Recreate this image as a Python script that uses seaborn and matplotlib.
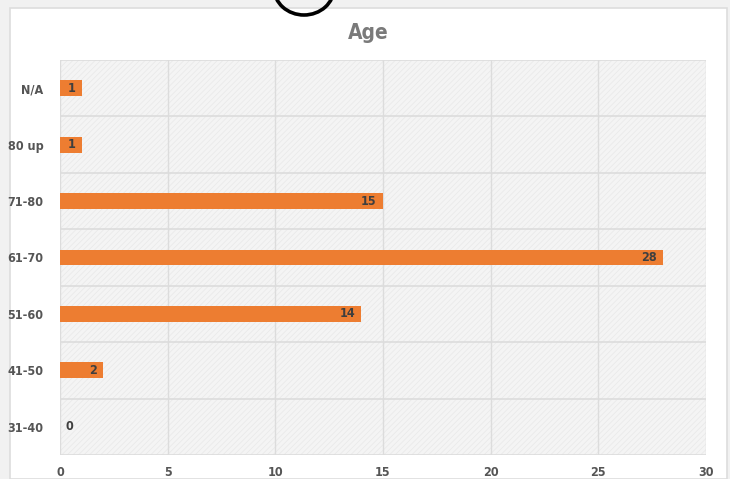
import matplotlib
matplotlib.use("Agg")
import matplotlib.pyplot as plt
from matplotlib.patches import Rectangle, Ellipse
from matplotlib import font_manager
import seaborn as sns
import pandas as pd

categories = ["N/A", "80 up", "71-80", "61-70", "51-60", "41-50", "31-40"]
counts = [1, 1, 15, 28, 14, 2, 0]
x_ticks = [0, 5, 10, 15, 20, 25, 30]
title = "Age"

sns.set_theme(style="white")
names = {f.name for f in font_manager.fontManager.ttflist}
fam = "Liberation Sans Narrow" if "Liberation Sans Narrow" in names else "DejaVu Sans"
plt.rcParams['font.family'] = [fam, 'DejaVu Sans']
plt.rcParams['font.stretch'] = 'condensed'
plt.rcParams['hatch.color'] = "#e8e8e8"
plt.rcParams['hatch.linewidth'] = 0.5

df = pd.DataFrame({"age": categories, "count": counts})

fig = plt.figure(figsize=(7.3, 4.79), dpi=100)
fig.patch.set_facecolor("#f1f1f1")
# white panel
fig.patches.append(Rectangle((10/730, 0), 717/730, 1 - 8/479, transform=fig.transFigure,
                             facecolor="white", edgecolor="#dddddd", linewidth=1.2, zorder=-10))
# black arc at top
fig.patches.append(Ellipse((304/730, 1 + 12/479), 60/730, 54/479, transform=fig.transFigure,
                           facecolor="none", edgecolor="black", linewidth=2.6, zorder=5))

ax = fig.add_axes([60/730, 24/479, 646/730, 395/479])
ax.set_facecolor("#f4f4f4")
ax.add_patch(Rectangle((0, 0), 1, 1, transform=ax.transAxes, facecolor="none",
                       edgecolor="#e8e8e8", hatch="//////", linewidth=0, zorder=0))

sns.barplot(data=df, y="age", x="count", order=categories, orient="h",
            color="#ED7D31", saturation=1, width=0.28, ax=ax, zorder=3,
            linewidth=0)

ax.set_xlim(0, 30)
ax.set_ylim(len(categories) - 0.5, -0.5)
ax.set_xticks(x_ticks)
ax.set_xticklabels([str(t) for t in x_ticks])
ax.set_yticks(range(len(categories)))
ax.set_yticklabels(categories)
for b in [i - 0.5 for i in range(len(categories) + 1)]:
    ax.axhline(b, color="#dcdcdc", linewidth=1.2, zorder=1)
for t in x_ticks:
    ax.axvline(t, color="#dcdcdc", linewidth=1.0, zorder=1)
ax.tick_params(axis="both", length=0, labelsize=9, labelcolor="#555555")
ax.tick_params(axis="y", pad=12)
ax.tick_params(axis="x", pad=8)
for lab in ax.get_xticklabels() + ax.get_yticklabels():
    lab.set_fontweight("bold")
ax.set_xlabel("")
ax.set_ylabel("")
for s in ax.spines.values():
    s.set_visible(False)

for i, v in enumerate(counts):
    if v == 0:
        ax.text(v + 0.25, i, str(v), ha="left", va="center", fontsize=9,
                fontweight="bold", color="#3f3f3f", zorder=4)
    else:
        ax.text(v - 0.3, i, str(v), ha="right", va="center", fontsize=9,
                fontweight="bold", color="#3f3f3f", zorder=4)

fig.text(368/730, 1 - 33/479, title, ha="center", va="center", fontsize=15,
         fontweight="bold", color="#7a7a7a")

fig.savefig("out.png", dpi=100, facecolor=fig.get_facecolor())
